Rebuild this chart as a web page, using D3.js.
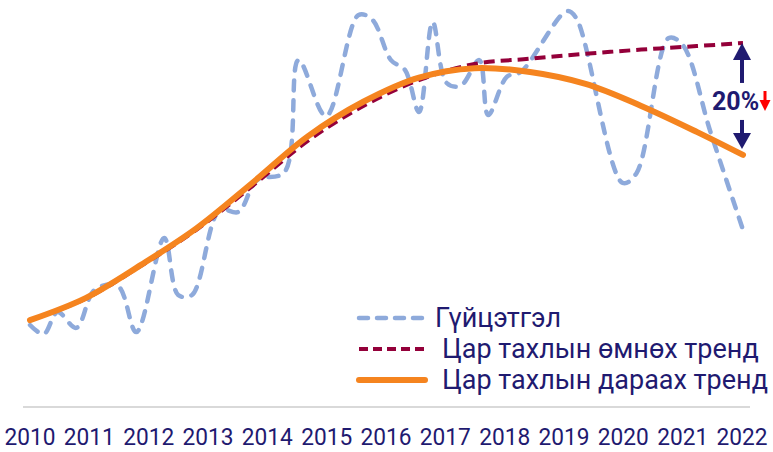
<!DOCTYPE html>
<html>
<head>
<meta charset="utf-8">
<script src="https://cdn.jsdelivr.net/npm/d3@7"></script>
<style>
  body { margin: 0; background: #fff; }
  text { font-family: Roboto, "Noto Sans", sans-serif; }
</style>
</head>
<body>
<script>
var actualDates = ["2010-01","2010-04","2010-07","2010-11","2011-03","2011-08","2011-12","2012-06","2012-09","2012-12",
  "2013-06","2013-10","2014-02","2014-08","2014-11","2015-05","2015-12","2016-03","2016-07","2016-10",
  "2017-01","2017-04","2017-07","2017-10","2018-02","2018-04","2018-08","2018-11","2019-09","2019-11",
  "2020-09","2020-12","2021-07","2021-10","2022-04","2022-11"]
var actualValues = [7.7,5.1,11.4,6.9,17.7,18.9,5.7,32.6,16.3,16.3,
  40.6,40,49.1,51.4,83.4,67.4,96.3,94.9,83.4,80.6,
  68.6,94.3,76.9,76,83.4,67.7,78.6,80,97.4,95.4,
  48.3,51.1,89.7,87.7,62.9,34.9]

// trend lines, one value per year start + end point
var trendDates = ["2010-01","2011-01","2012-01","2013-01","2014-01","2015-01","2016-01","2017-01","2018-01","2019-01","2020-01","2021-01","2022-01","2022-11"]
var preTrend  = [9.1,15.2,24.6,35,47.4,60.3,70.3,77.7,82.3,83.8,85.2,86.4,87.4,88.3]
var postTrend = [9.1,15.4,24.9,35.4,48.3,61.6,71.5,78.4,81.1,80,76.6,70.3,62.9,56.3]

var years = ["2010","2011","2012","2013","2014","2015","2016","2017","2018","2019","2020","2021","2022"]
var legendLabels = ["Гүйцэтгэл", "Цар тахлын өмнөх тренд", "Цар тахлын дараах тренд"]
var changeLabel = "20%"

var W = 773, H = 452
var navy = "#1f1a70"
var parse = d3.timeParse("%Y-%m")

var svg = d3.select("body").append("svg")
    .attr("width", W)
    .attr("height", H)

var x = d3.scaleTime()
    .domain([parse("2010-01"), parse("2022-11")])
    .range([30, 743])
var y = d3.scaleLinear()
    .domain([0, 100])
    .range([352, 2])
var xYear = d3.scalePoint()
    .domain(years)
    .range([30, 742])

var actual = actualDates.map((d, i) => ({date: parse(d), v: actualValues[i]}))
var pre = trendDates.map((d, i) => ({date: parse(d), v: preTrend[i]}))
var post = trendDates.map((d, i) => ({date: parse(d), v: postTrend[i]}))

var line = d3.line()
    .x(d => x(d.date))
    .y(d => y(d.v))
    .curve(d3.curveCatmullRom.alpha(0.5))

// axis line
svg.append("line")
    .attr("x1", 23).attr("x2", 750)
    .attr("y1", 407).attr("y2", 407)
    .style("stroke", "#d9d9d9")
    .style("stroke-width", 2)

// year labels
svg.append("g").selectAll("text")
    .data(years)
    .enter()
    .append("text")
    .attr("x", d => xYear(d))
    .attr("y", 445)
    .attr("text-anchor", "middle")
    .style("font-size", "24px")
    .style("fill", navy)
    .attr("textLength", 51)
    .attr("lengthAdjust", "spacingAndGlyphs")
    .text(d => d)

// lines
var styles = [
  {data: actual, color: "#8eaadb", width: 4.5, dash: "10,10", cap: "round"},
  {data: pre, color: "#94003a", width: 4, dash: "11,6", cap: "butt"},
  {data: post, color: "#f5841f", width: 6, dash: null, cap: "round"}
]

svg.append("g").selectAll("path")
    .data(styles)
    .enter()
    .append("path")
    .attr("d", d => line(d.data))
    .style("fill", "none")
    .style("stroke", d => d.color)
    .style("stroke-width", d => d.width)
    .style("stroke-dasharray", d => d.dash)
    .style("stroke-linecap", d => d.cap)
    .style("stroke-linejoin", "round")

// legend
var legend = svg.append("g").selectAll("g")
    .data(styles)
    .enter()
    .append("g")
    .attr("transform", (d, i) => "translate(357," + (318 + i * 31) + ")")

legend.append("line")
    .attr("x1", 2).attr("x2", 68)
    .style("stroke", d => d.color)
    .style("stroke-width", d => d.width)
    .style("stroke-dasharray", (d, i) => i == 0 ? "9,9" : d.dash ? "9,5" : null)
    .style("stroke-linecap", d => d.cap)

legend.append("text")
    .attr("x", (d, i) => i == 0 ? 78 : 85)
    .attr("y", 9)
    .style("font-size", "27px")
    .style("fill", navy)
    .text((d, i) => legendLabels[i])

// 20% annotation arrows
var endDate = parse("2022-11")
var ax = x(endDate) - 1
var yTop = y(preTrend[preTrend.length - 1])
var yBot = y(postTrend[postTrend.length - 1])

var ann = svg.append("g")
ann.append("line")
    .attr("x1", ax).attr("x2", ax)
    .attr("y1", yTop + 14).attr("y2", yTop + 40)
    .style("stroke", navy).style("stroke-width", 4)
ann.append("path")
    .attr("d", `M${ax - 9},${yTop + 17} L${ax},${yTop} L${ax + 9},${yTop + 17} Z`)
    .style("fill", navy)
ann.append("line")
    .attr("x1", ax).attr("x2", ax)
    .attr("y1", yBot - 35).attr("y2", yBot - 18)
    .style("stroke", navy).style("stroke-width", 4)
ann.append("path")
    .attr("d", `M${ax - 9},${yBot - 22} L${ax},${yBot - 6} L${ax + 9},${yBot - 22} Z`)
    .style("fill", navy)

ann.append("text")
    .attr("x", 712)
    .attr("y", 110)
    .style("font-size", "25px")
    .style("font-weight", "bold")
    .style("fill", navy)
    .text(changeLabel)

// small red down arrow
ann.append("line")
    .attr("x1", 765).attr("x2", 765)
    .attr("y1", 91).attr("y2", 103)
    .style("stroke", "#ff0000").style("stroke-width", 3)
ann.append("path")
    .attr("d", "M759.5,100 L765,111 L770.5,100 Z")
    .style("fill", "#ff0000")
</script>
</body>
</html>
